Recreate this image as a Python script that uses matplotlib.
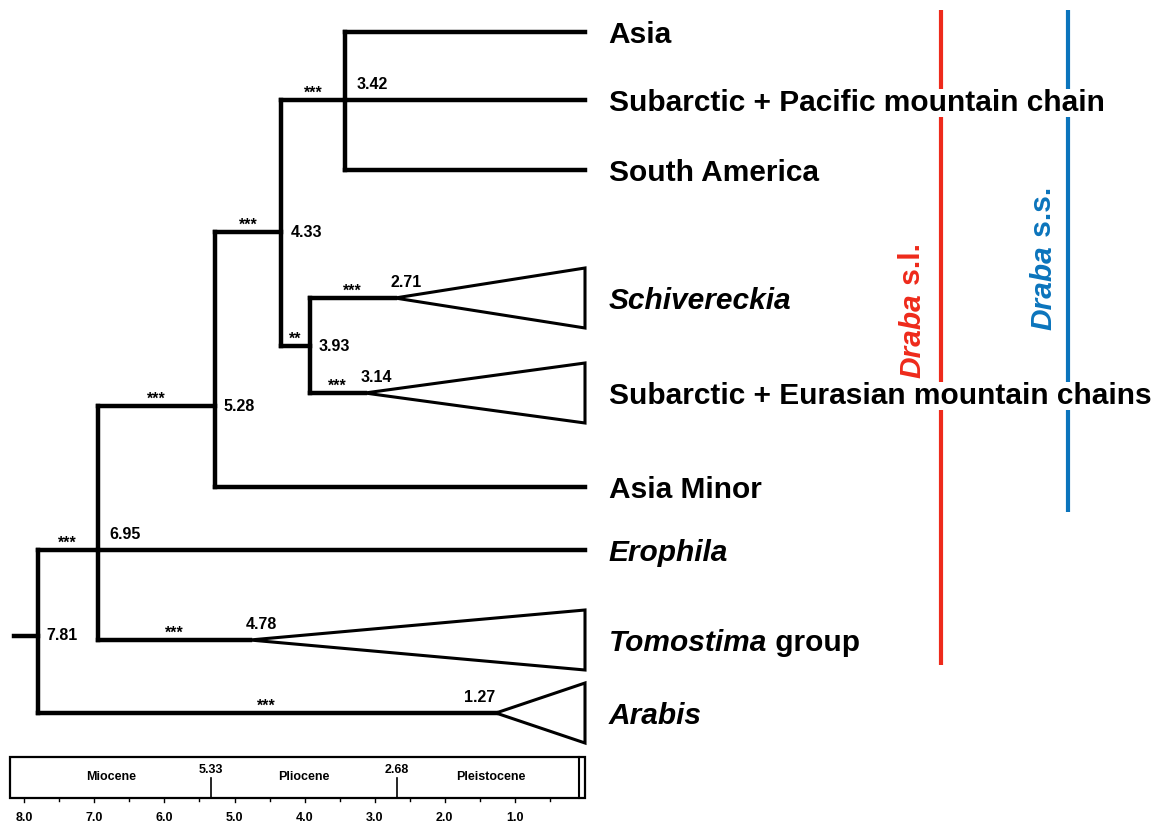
import matplotlib.pyplot as plt
from matplotlib.patches import Polygon, Rectangle

plt.rcParams['font.family'] = ['Liberation Sans', 'DejaVu Sans']
plt.rcParams['font.weight'] = 'bold'

# ---- data ----
# tips, top to bottom
tip_names = ['Asia', 'Subarctic + Pacific mountain chain', 'South America',
             'Schivereckia', 'Subarctic + Eurasian mountain chains', 'Asia Minor',
             'Erophila', 'Tomostima', 'Arabis']
tip_suffix = ['', '', '', '', '', '', '', ' group', '']
tip_italic = [False, False, False, True, False, False, True, True, True]
# crown age of collapsed clades (0 = single leaf)
tip_crown = [0, 0, 0, 2.71, 3.14, 0, 0, 4.78, 1.27]
tip_support = ['', '', '', '***', '***', '', '', '***', '***']

# internal nodes (ages in Ma)
node_ids = ['root', 'n695', 'n528', 'n433', 'n393', 'n342']
node_ages = [7.81, 6.95, 5.28, 4.33, 3.93, 3.42]
node_support = ['', '***', '***', '***', '**', '***']
node_children = [['n695', 8], ['n528', 6, 7], ['n433', 5],
                 ['n342', 'n393'], [3, 4], [0, 1, 2]]
root_stem = 8.15

# geological time scale
epoch_names = ['Miocene', 'Pliocene', 'Pleistocene']
epoch_bounds = [8.2, 5.33, 2.68, 0.0]
holocene = 0.09
tick_vals = [8.0, 7.0, 6.0, 5.0, 4.0, 3.0, 2.0, 1.0]

# groups
group_names = ['Draba', 'Draba']
group_suffix = [' s.l.', ' s.s.']
group_first = [0, 0]
group_last = [7, 5]
group_colors = ['#EE2A1B', '#0B74BC']

# ---- layout (pixel rows) ----
tip_y = [32, 100, 170, 298, 393, 487, 550, 640, 713]
node_y = [636, 550, 406, 232, 346, 100]
PX = 70.1      # pixels per Ma
X0 = 585       # pixel of 0 Ma
tri_half = 30
lw = 3.2

fig = plt.figure(figsize=(11.67, 8.23), dpi=100)
ax = fig.add_axes([0, 0, 1, 1])
ax.set_xlim(X0 / PX, (X0 - 1167) / PX)
ax.set_ylim(823, 0)
ax.axis('off')


def line(x, y, **kw):
    ax.plot(x, y, color='black', lw=kw.pop('lw', lw),
            solid_capstyle='projecting', **kw)


def ypos(c):
    return tip_y[c] if isinstance(c, int) else node_y[node_ids.index(c)]


def age(c):
    return tip_crown[c] if isinstance(c, int) else node_ages[node_ids.index(c)]


def support(x0, x1, y, s):
    if s:
        ax.annotate(s, ((x0 + x1) / 2, y), xytext=(0, 1.5), textcoords='offset points',
                    ha='center', va='baseline', fontsize=11.5)


# root stem
line([root_stem, node_ages[0]], [node_y[0], node_y[0]])

for i, nid in enumerate(node_ids):
    a, y = node_ages[i], node_y[i]
    kids = node_children[i]
    ys = [ypos(c) for c in kids]
    line([a, a], [min(ys), max(ys)])
    for c in kids:
        line([a, age(c)], [ypos(c), ypos(c)])
        if isinstance(c, int):
            support(a, age(c), tip_y[c], tip_support[c])
        else:
            j = node_ids.index(c)
            support(a, node_ages[j], node_y[j], node_support[j])
    # node age label
    if len(kids) == 3:
        ax.annotate(f'{a:.2f}', (a, y), xytext=(8, 6), textcoords='offset points',
                    ha='left', va='bottom', fontsize=11.5)
    else:
        ax.annotate(f'{a:.2f}', (a, y), xytext=(6.5, 0), textcoords='offset points',
                    ha='left', va='center', fontsize=11.5)

# collapsed clades and tip labels
for k, name in enumerate(tip_names):
    y = tip_y[k]
    c = tip_crown[k]
    if c > 0:
        ax.add_patch(Polygon([(c, y), (0, y - tri_half), (0, y + tri_half)],
                             closed=True, fill=False, lw=2.2, joinstyle='miter'))
        dx = -12 if c < 2 else 8
        ax.annotate(f'{c:.2f}', (c, y), xytext=(dx, 6), textcoords='offset points',
                    ha='center', va='bottom', fontsize=11.5)
    t = ax.annotate(name, (0, y), xytext=(17, -2), textcoords='offset points',
                    ha='left', va='center', fontsize=21.5,
                    style='italic' if tip_italic[k] else 'normal',
                    bbox=dict(facecolor='white', edgecolor='none', pad=0), zorder=5)
    if tip_suffix[k]:
        ax.annotate(tip_suffix[k], (1, 0.5), xycoords=t, ha='left', va='center',
                    fontsize=21.5, zorder=5)

# group bars
for g in range(len(group_names)):
    gx = (X0 - [941, 1068][g]) / PX
    y0 = tip_y[group_first[g]] - 22
    y1 = tip_y[group_last[g]] + 25
    ax.plot([gx, gx], [y0, y1], color=group_colors[g], lw=3, zorder=2,
            solid_capstyle='butt')
    lab_x = gx + [29, 25][g] / PX
    lab_y = [378, 330][g]
    t1 = ax.text(lab_x, lab_y, group_names[g], rotation=90, ha='center', va='bottom',
                 color=group_colors[g], fontsize=21.5, style='italic')
    ax.annotate(group_suffix[g], (0.5, 1), xycoords=t1, rotation=90, ha='center',
                va='bottom', color=group_colors[g], fontsize=21.5)

# time scale bar
bar_top, bar_bot = 757, 798
ax.add_patch(Rectangle((epoch_bounds[-1], bar_top), epoch_bounds[0] - epoch_bounds[-1],
                       bar_bot - bar_top, fill=False, lw=1.6, zorder=3))
ax.plot([holocene, holocene], [bar_top, bar_bot], color='black', lw=1.5)
for b in epoch_bounds[1:-1]:
    ax.plot([b, b], [778, bar_bot], color='black', lw=1.2)
    ax.text(b, 776, f'{b:.2f}', ha='center', va='bottom', fontsize=9)
for e, name in enumerate(epoch_names):
    ax.text((epoch_bounds[e] + epoch_bounds[e + 1]) / 2, 777, name,
            ha='center', va='center', fontsize=9)
for v in [x / 2 for x in range(1, 17)]:
    ax.plot([v, v], [bar_bot, bar_bot + (4 if v % 1 == 0 else 2.5)],
            color='black', lw=1)
for v in tick_vals:
    ax.text(v, 818, f'{v:.1f}', ha='center', va='center', fontsize=9)

fig.savefig('out.png', dpi=100)
